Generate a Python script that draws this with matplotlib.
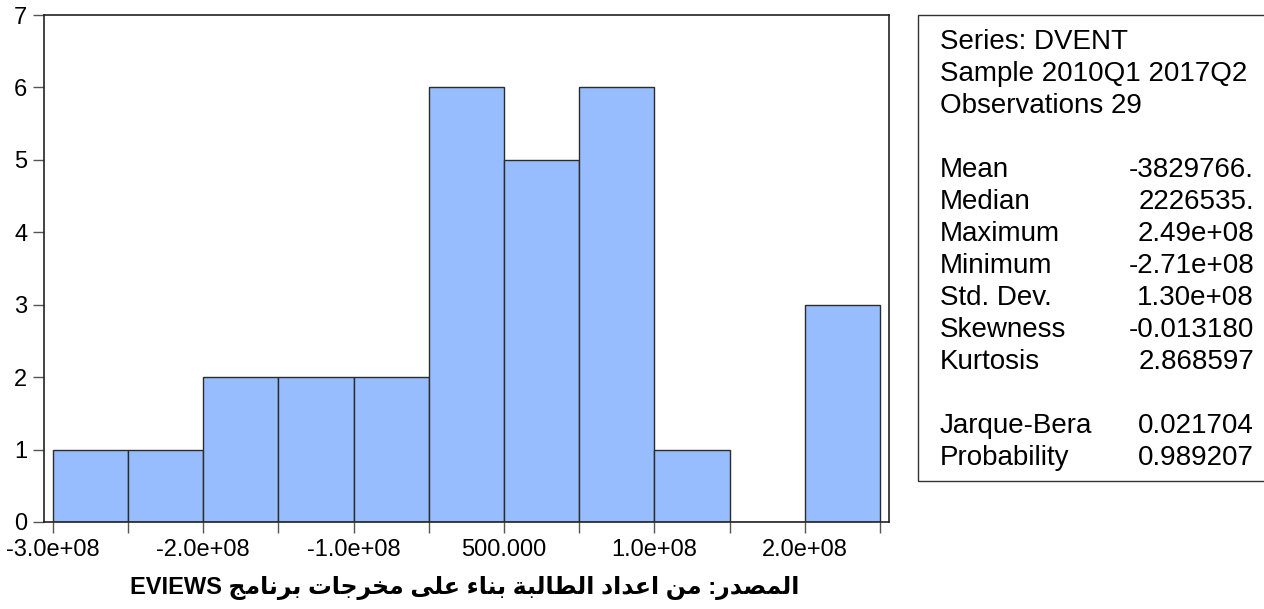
import numpy as np
import matplotlib.pyplot as plt
from matplotlib.patches import Rectangle

plt.rcParams['font.family'] = ['Liberation Sans', 'DejaVu Sans']

## histogram data
bin_edges = [-3.0e8, -2.5e8, -2.0e8, -1.5e8, -1.0e8, -0.5e8, 0.0,
             0.5e8, 1.0e8, 1.5e8, 2.0e8, 2.5e8]
counts = [1, 1, 2, 2, 2, 6, 5, 6, 1, 0, 3]

xtick_pos = [-3.0e8, -2.0e8, -1.0e8, 0.0, 1.0e8, 2.0e8]
xtick_labels = ['-3.0e+08', '-2.0e+08', '-1.0e+08', '500.000', '1.0e+08', '2.0e+08']
xminor_pos = [-2.5e8, -1.5e8, -0.5e8, 0.5e8, 1.5e8, 2.5e8]
ytick_pos = [0, 1, 2, 3, 4, 5, 6, 7]

## stats box
header_lines = ['Series: DVENT', 'Sample 2010Q1 2017Q2', 'Observations 29']
stat_names = ['Mean', 'Median', 'Maximum', 'Minimum', 'Std. Dev.', 'Skewness', 'Kurtosis']
stat_values = ['-3829766.', '2226535.', '2.49e+08', '-2.71e+08', '1.30e+08', '-0.013180', '2.868597']
test_names = ['Jarque-Bera', 'Probability']
test_values = ['0.021704', '0.989207']

footer_text = 'المصدر: من اعداد الطالبة بناء على مخرجات برنامج EVIEWS'

## arabic shaping (matplotlib does not join letters itself)
# char: (isolated, final, initial, medial)
FORMS = {
    'ا': ('\uFE8D', '\uFE8E', None, None),
    'ب': ('\uFE8F', '\uFE90', '\uFE91', '\uFE92'),
    'ة': ('\uFE93', '\uFE94', None, None),
    'ت': ('\uFE95', '\uFE96', '\uFE97', '\uFE98'),
    'ج': ('\uFE9D', '\uFE9E', '\uFE9F', '\uFEA0'),
    'خ': ('\uFEA5', '\uFEA6', '\uFEA7', '\uFEA8'),
    'د': ('\uFEA9', '\uFEAA', None, None),
    'ر': ('\uFEAD', '\uFEAE', None, None),
    'ص': ('\uFEB9', '\uFEBA', '\uFEBB', '\uFEBC'),
    'ط': ('\uFEC1', '\uFEC2', '\uFEC3', '\uFEC4'),
    'ع': ('\uFEC9', '\uFECA', '\uFECB', '\uFECC'),
    'ل': ('\uFEDD', '\uFEDE', '\uFEDF', '\uFEE0'),
    'م': ('\uFEE1', '\uFEE2', '\uFEE3', '\uFEE4'),
    'ن': ('\uFEE5', '\uFEE6', '\uFEE7', '\uFEE8'),
    'ى': ('\uFEEF', '\uFEF0', None, None),
    'ء': ('\uFE80', None, None, None),
}


def shape_word(w):
    out = []
    for i, c in enumerate(w):
        if c not in FORMS:
            out.append(c)
            continue
        prev = w[i - 1] if i > 0 else ''
        nxt = w[i + 1] if i + 1 < len(w) else ''
        jp = prev in FORMS and FORMS[prev][2] is not None and FORMS[c][1] is not None
        jn = FORMS[c][2] is not None and nxt in FORMS and FORMS[nxt][1] is not None
        f = FORMS[c]
        if jp and jn:
            out.append(f[3])
        elif jp:
            out.append(f[1])
        elif jn:
            out.append(f[2])
        else:
            out.append(f[0])
    return ''.join(out)


def rtl_visual(s):
    words = s.split(' ')
    vis = []
    for w in reversed(words):
        if any(c in FORMS for c in w):
            vis.append(shape_word(w)[::-1])
        else:
            vis.append(w)
    return ' '.join(vis)


W, H = 1264, 609
fig = plt.figure(figsize=(W / 100, H / 100), dpi=100)
ax = fig.add_axes([44 / W, 1 - 522 / H, (889 - 44) / W, (522 - 15) / H])

ax.bar(bin_edges[:-1], counts, width=np.diff(bin_edges), align='edge',
       color='#97BDFE', edgecolor='#2b2b2b', linewidth=1.0)

ax.set_xlim(-3.0585e8, 2.56e8)
ax.set_ylim(0, 7)
ax.set_xticks(xtick_pos)
ax.set_xticklabels(xtick_labels)
ax.set_xticks(xminor_pos, minor=True)
ax.set_yticks(ytick_pos)
ax.tick_params(axis='both', which='both', direction='out', length=8,
               width=1, color='#555555', labelsize=17, pad=4)
for sp in ax.spines.values():
    sp.set_linewidth(1.2)
    sp.set_color('#222222')

## stats box
fig.patches.append(Rectangle((918 / W, 1 - 481 / H), 1.0, (481 - 15) / H,
                             transform=fig.transFigure, fill=False,
                             edgecolor='#333333', linewidth=1.0))


def row_y(r):
    return 1 - (42 + 32 * r) / H


xl, xr = 940 / W, 1254 / W
for i, t in enumerate(header_lines):
    fig.text(xl, row_y(i), t, fontsize=20, va='center', ha='left')
for i, (n, v) in enumerate(zip(stat_names, stat_values)):
    fig.text(xl, row_y(4 + i), n, fontsize=20, va='center', ha='left')
    fig.text(xr, row_y(4 + i), v, fontsize=20, va='center', ha='right')
for i, (n, v) in enumerate(zip(test_names, test_values)):
    fig.text(xl, row_y(12 + i), n, fontsize=20, va='center', ha='left')
    fig.text(xr, row_y(12 + i), v, fontsize=20, va='center', ha='right')

fig.text(465 / W, 1 - 588 / H, rtl_visual(footer_text), fontsize=17,
         fontweight='bold', ha='center', va='center')

fig.savefig('out.png', dpi=100)
